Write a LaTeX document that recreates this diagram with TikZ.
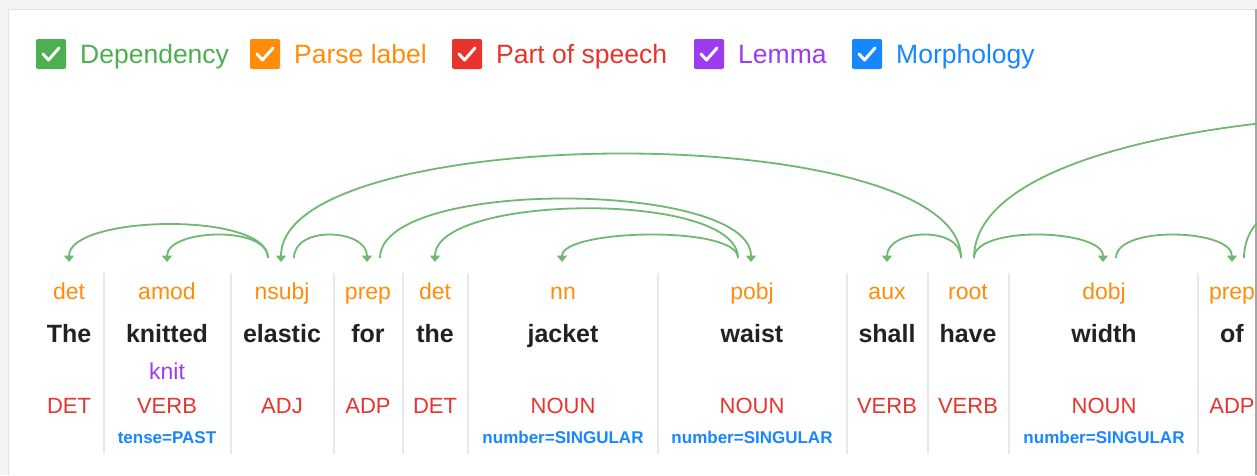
\documentclass[tikz,border=0pt]{standalone}
\usepackage{fontspec}
\setmainfont{Liberation Sans}
\usetikzlibrary{arrows.meta}
\definecolor{depgreen}{HTML}{4CAF50}
\definecolor{arcgreen}{HTML}{6FB86F}
\definecolor{lblorange}{HTML}{FF8C0A}
\definecolor{posred}{HTML}{E8342C}
\definecolor{lempurple}{HTML}{9D3BEF}
\definecolor{morphblue}{HTML}{1787FF}
\definecolor{wordgray}{HTML}{222222}
\definecolor{sepgray}{HTML}{E8E8E8}
\begin{document}
\begin{tikzpicture}
        [x=1pt,y=-1pt,
        legendbox/.style={shape=rectangle,rounded corners=2pt,minimum size=30pt,inner sep=0pt},%
        checkmark/.style={draw=white,line width=3pt,line cap=round,line join=round},%
        legendtext/.style={font=\fontsize{26.5}{30}\selectfont,anchor=base west,inner sep=0pt},%
        deplabel/.style={font=\fontsize{23}{26}\selectfont,text=lblorange,anchor=base,inner sep=0pt},%
        word/.style={font=\fontsize{25}{28}\selectfont\bfseries,text=wordgray,anchor=base,inner sep=0pt},%
        lemma/.style={font=\fontsize{23}{26}\selectfont,text=lempurple,anchor=base,inner sep=0pt},%
        poslabel/.style={font=\fontsize{22}{25}\selectfont,text=posred,anchor=base,inner sep=0pt},%
        morph/.style={font=\fontsize{17}{20}\selectfont\bfseries,text=morphblue,anchor=base,inner sep=0pt},%
        sepline/.style={draw=sepgray,line width=1.5pt},%
        deparc/.style={draw=arcgreen,line width=1.8pt,-{Triangle[width=10pt,length=6.5pt]},
          to path={.. controls +(0,-#1) and +(0,-#1) .. (\tikztotarget)}}]
        \useasboundingbox (0,0) rectangle (1257,475);
        \begin{scope}
        \clip (0,0) rectangle (1257,475);
        %% card
        \fill[gray!9] (0,0) rectangle (1257,475);
        \fill[white] (8,9) rectangle (1256,475);
        \draw[gray!22] (8,475) -- (8,9) -- (1256,9);
        \draw[gray!70,line width=1.5pt] (1256,9) -- (1256,475);

        %% legend
        \foreach \name/\x/\col/\txt in {dep/51/depgreen/Dependency,
          lbl/265/lblorange/Parse label, pos/467/posred/Part of speech,
          lem/709/lempurple/Lemma, mor/867/morphblue/Morphology}
        {
          \node (box\name) at (\x,54) [legendbox,fill=\col] {};
          \draw[checkmark] ([xshift=-8pt]box\name.center) -- ++(5.5,6) -- ++(10.5,-12);
          \node (txt\name) at (\x+29,63) [legendtext,text=\col] {\txt};
        }

        %% column separators
        \foreach \x in {104,231,334,403,468,658,847,928,1009,1198}
          \draw[sepline] (\x,273) -- (\x,454);

        %% tokens
        \foreach \n/\x/\dep/\word/\pos in {1/69/det/The/DET, 2/167/amod/knitted/VERB,
          3/282/nsubj/elastic/ADJ, 4/368/prep/for/ADP, 5/435/det/the/DET,
          6/563/nn/jacket/NOUN, 7/752/pobj/waist/NOUN, 8/887/aux/shall/VERB,
          9/968/root/have/VERB, 10/1104/dobj/width/NOUN, 11/1232/prep/of/ADP}
        {
          \coordinate (c\n) at (\x,262);
          \node (dep\n) at (\x,299) [deplabel] {\dep};
          \node (w\n) at (\x,342) [word] {\word};
          \node (pos\n) at (\x,413) [poslabel] {\pos};
        }
        \node (lem2) at (167,379) [lemma] {knit};
        \foreach \n/\x/\m in {2/167/tense=PAST, 6/563/number=SINGULAR,
          7/752/number=SINGULAR, 10/1104/number=SINGULAR}
          \node (mor\n) at (\x,443) [morph] {\m};

        %% arcs
        \coordinate (r1) at (1900,262);
        \coordinate (r2) at (1420,262);
        \path
        \foreach \s/\ds/\t/\dt/\h in {3/-14/1/0/47, 3/-14/2/0/33, 9/-7/3/-1/141,
          3/12/4/-1/33, 4/12/7/-1/81, 7/-14/5/0/68, 7/-14/6/-1/33,
          9/-7/8/0/33, 9/6/10/-1/33, 10/12/11/0/33}
        {
          ([xshift=\ds pt,yshift=4pt]c\s) edge[deparc=\h] ([xshift=\dt pt]c\t)
        };
        \path ([xshift=6pt,yshift=4pt]c9) edge[deparc=194] (r1)
          ([xshift=12pt,yshift=4pt]c11) edge[deparc=85] (r2);
        \end{scope}
      \end{tikzpicture}
\end{document}
